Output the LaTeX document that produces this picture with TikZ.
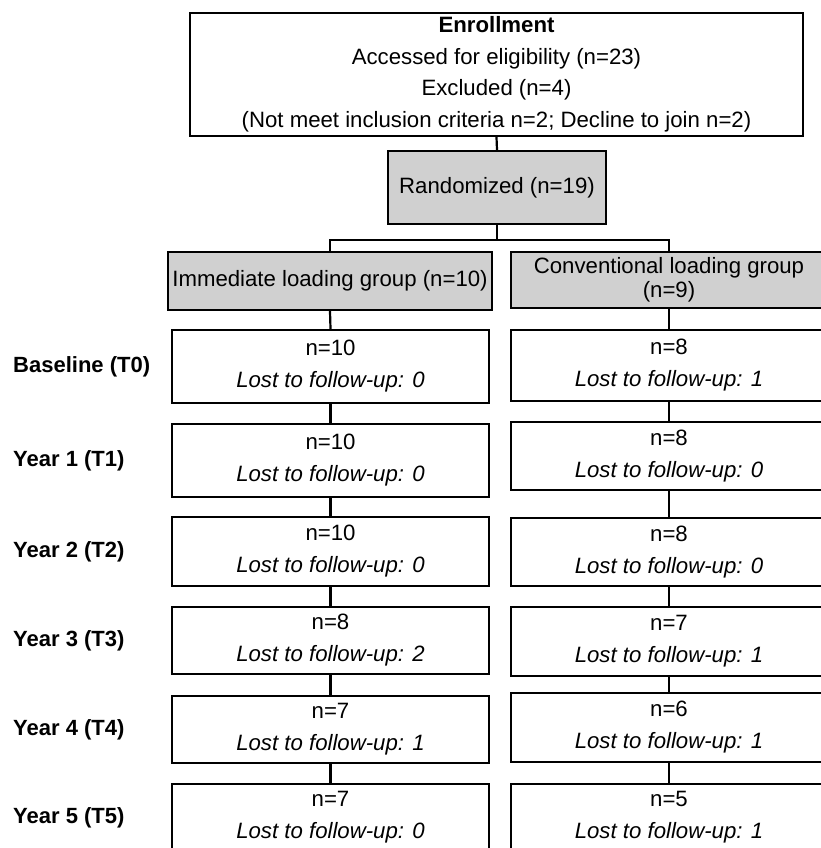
\documentclass[tikz,border=0pt]{standalone}
\usepackage{fontspec}
\setmainfont{Liberation Sans}
\definecolor{boxgray}{RGB}{208,208,208}
\begin{document}
\begin{tikzpicture}[x=1pt,y=-1pt,
  box/.style={draw=black,line width=2.4pt,rectangle,inner sep=0pt,align=center,
    font=\fontsize{22.2}{32}\selectfont},
  graybox/.style={box,fill=boxgray},
  tlabel/.style={anchor=west,inner sep=0pt,font=\fontsize{22}{26}\selectfont\bfseries},
  conn/.style={line width=2.2pt}]
\useasboundingbox (0,0) rectangle (821,848);
\clip (0,0) rectangle (821,848);
% top
\node[box,minimum width=613,minimum height=123,font=\fontsize{22.2}{31.5}\selectfont]
  (enroll) at (496.5,74.5) {\textbf{Enrollment}\\Accessed for eligibility (n=23)\\Excluded (n=4)\\(Not meet inclusion criteria n=2; Decline to join n=2)};
\node[graybox,minimum width=218,minimum height=73] (rand) at (497,187.5) {Randomized (n=19)};
\node[graybox,minimum width=324,minimum height=58] (imm) at (330,281) {Immediate loading group (n=10)};
\node[graybox,minimum width=316,minimum height=56,font=\fontsize{22.2}{24.5}\selectfont] (conv) at (669,280) {Conventional loading group\\(n=9)};
\coordinate (split) at (497,240);
\draw[conn] (enroll.south) -- (rand.north);
\draw[conn] (rand.south) -- (split);
\draw[conn] (split) -| (imm.north);
\draw[conn] (split) -| (conv.north);
% left column
\node[box,minimum width=317,minimum height=73] (L0) at (330.5,366.5) {n=10\\\textit{Lost to follow-up: 0}};
\node[box,minimum width=317,minimum height=73] (L1) at (330.5,460.5) {n=10\\\textit{Lost to follow-up: 0}};
\node[box,minimum width=317,minimum height=69] (L2) at (330.5,551.5) {n=10\\\textit{Lost to follow-up: 0}};
\node[box,minimum width=317,minimum height=67] (L3) at (330.5,640.5) {n=8\\\textit{Lost to follow-up: 2}};
\node[box,minimum width=317,minimum height=67] (L4) at (330.5,729.5) {n=7\\\textit{Lost to follow-up: 1}};
\node[box,minimum width=317,minimum height=67] (L5) at (330.5,817.5) {n=7\\\textit{Lost to follow-up: 0}};
% right column
\node[box,minimum width=316,minimum height=71] (R0) at (669,365.5) {n=8\\\textit{Lost to follow-up: 1}};
\node[box,minimum width=316,minimum height=68] (R1) at (669,456) {n=8\\\textit{Lost to follow-up: 0}};
\node[box,minimum width=316,minimum height=68] (R2) at (669,552) {n=8\\\textit{Lost to follow-up: 0}};
\node[box,minimum width=316,minimum height=69] (R3) at (669,641.5) {n=7\\\textit{Lost to follow-up: 1}};
\node[box,minimum width=316,minimum height=69] (R4) at (669,727.5) {n=6\\\textit{Lost to follow-up: 1}};
\node[box,minimum width=316,minimum height=67] (R5) at (669,817.5) {n=5\\\textit{Lost to follow-up: 1}};
% connectors
\draw[conn] (imm.south) -- (L0.north);
\draw[conn] (conv.south) -- (R0.north);
\foreach \a/\b in {0/1,1/2,2/3,3/4,4/5}{
  \draw[conn] (L\a.south) -- (L\b.north);
  \draw[conn] (R\a.south) -- (R\b.north);
}
% time labels
\node[tlabel] (t0) at (13,366.5) {Baseline (T0)};
\node[tlabel] (t1) at (13,460.5) {Year 1 (T1)};
\node[tlabel] (t2) at (13,551.5) {Year 2 (T2)};
\node[tlabel] (t3) at (13,640.5) {Year 3 (T3)};
\node[tlabel] (t4) at (13,729.5) {Year 4 (T4)};
\node[tlabel] (t5) at (13,817.5) {Year 5 (T5)};
\end{tikzpicture}
\end{document}
